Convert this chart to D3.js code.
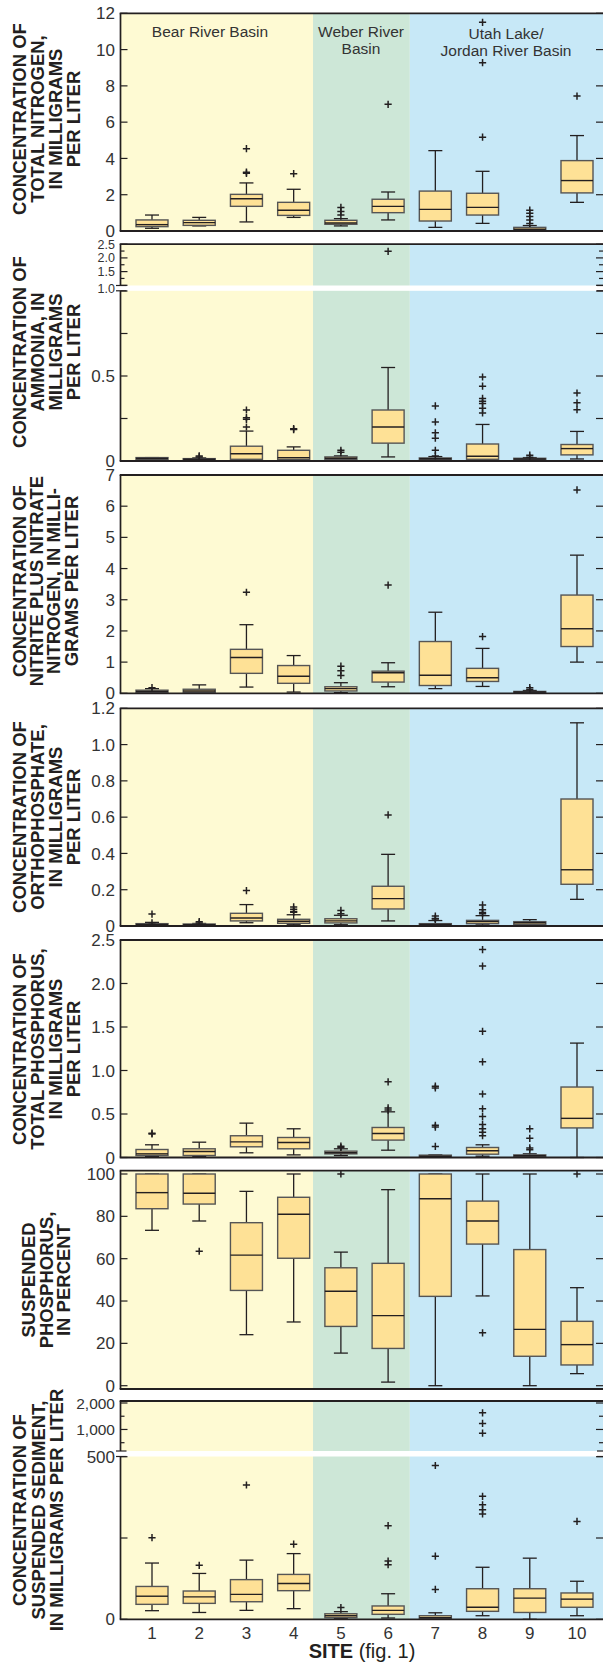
<!DOCTYPE html>
<html><head><meta charset="utf-8">
<script src="https://cdn.jsdelivr.net/npm/d3@7"></script>
<style>
body{margin:0;background:#fff}
svg{display:block}
text{font-family:"Liberation Sans",Arial,Helvetica,sans-serif}
</style>
</head><body>
<svg id="chart" width="603" height="1662"></svg>
<script>
// ---------------- DATA ----------------
const sites = [1,2,3,4,5,6,7,8,9,10];
const siteLabels = ["1","2","3","4","5","6","7","8","9","10"];
const basinNames = [["Bear River Basin"],["Weber River","Basin"],["Utah Lake/","Jordan River Basin"]];
const basinEdges = [0.32, 4.41, 6.46, 10.7];
const basinColors = ["#fefad3","#cde7d7","#c7e8f7"];

// stats per site: [low whisker, 25th, median, 75th, high whisker]
const nitrogenStats = [[0.15,0.24,0.35,0.61,0.88],[0.28,0.31,0.46,0.59,0.75],[0.5,1.36,1.78,2.02,2.65],[0.75,0.86,1.14,1.58,2.3],[0.28,0.37,0.44,0.59,0.68],[0.61,1.01,1.36,1.75,2.15],[0.2,0.55,1.19,2.2,4.43],[0.42,0.88,1.3,2.08,3.29],[0.01,0.05,0.1,0.2,0.3],[1.58,2.1,2.78,3.88,5.26]];
const nitrogenOutliers = [[],[],[4.54,3.24,3.18],[3.16],[1.3,1.07,0.88],[6.98],[],[11.5,9.28,5.17],[1.15,0.98,0.8,0.6,0.42],[7.44]];

const ammoniaStats = [[0.01,0.01,0.015,0.02,0.02],[0.004,0.006,0.01,0.014,0.018],[0.005,0.01,0.043,0.087,0.176],[0.005,0.01,0.02,0.063,0.083],[0.006,0.008,0.016,0.024,0.03],[0.024,0.105,0.2,0.3,0.55],[0.005,0.008,0.013,0.018,0.026],[0.005,0.01,0.028,0.1,0.215],[0.004,0.008,0.012,0.016,0.02],[0.012,0.036,0.073,0.097,0.174]];
const ammoniaOutliers = [[],[0.03,0.024],[0.3,0.255,0.245,0.2],[0.19,0.185],[0.063,0.051],[2.24],[0.324,0.23,0.166,0.134,0.063,0.03],[0.494,0.44,0.368,0.352,0.338,0.31,0.283],[0.034,0.022],[0.4,0.342,0.302]];

const nitrateStats = [[0.01,0.03,0.06,0.1,0.15],[0.01,0.03,0.075,0.13,0.27],[0.2,0.64,1.15,1.41,2.2],[0.04,0.32,0.545,0.89,1.21],[0.02,0.075,0.15,0.21,0.34],[0.21,0.36,0.66,0.71,0.98],[0.15,0.25,0.58,1.66,2.6],[0.22,0.38,0.5,0.8,1.44],[0.005,0.02,0.04,0.06,0.09],[1.0,1.5,2.07,3.15,4.43]];
const nitrateOutliers = [[0.18],[],[3.24],[],[0.87,0.72,0.57],[3.47],[],[1.82],[0.18,0.12],[6.52]];

const orthoStats = [[0.003,0.005,0.008,0.013,0.02],[0.003,0.005,0.007,0.011,0.014],[0.018,0.028,0.044,0.07,0.118],[0.007,0.015,0.026,0.037,0.062],[0.007,0.017,0.028,0.04,0.059],[0.028,0.094,0.151,0.219,0.395],[0.003,0.005,0.008,0.013,0.03],[0.006,0.013,0.024,0.031,0.057],[0.005,0.009,0.018,0.024,0.035],[0.147,0.23,0.31,0.70,1.12]];
const orthoOutliers = [[0.066,0.018],[0.024,0.016],[0.195],[0.105,0.092,0.08,0.076],[0.086,0.068],[0.612],[0.055,0.042,0.038],[0.116,0.09,0.075,0.068],[],[]];

const phosStats = [[0.01,0.023,0.042,0.092,0.146],[0.01,0.023,0.069,0.1,0.176],[0.054,0.123,0.18,0.25,0.395],[0.03,0.1,0.173,0.23,0.33],[0.023,0.042,0.054,0.073,0.1],[0.084,0.2,0.276,0.345,0.525],[0.003,0.008,0.015,0.027,0.03],[0.015,0.038,0.077,0.115,0.146],[0.003,0.008,0.02,0.03,0.042],[0,0.34,0.45,0.81,1.315]];
const phosOutliers = [[0.28,0.27],[],[],[],[0.13,0.115],[0.87,0.57,0.545],[0.82,0.8,0.37,0.35,0.127],[2.39,2.2,1.45,1.1,0.73,0.56,0.47,0.38,0.33,0.29,0.25],[0.33,0.22,0.11,0.09],[]];

const suspPStats = [[73.4,83.6,91.2,100,100],[77.8,85.8,90.9,100,100],[24.1,45,61.7,77,91.8],[30.1,60.2,81,89,100],[15.4,28,44.6,55.7,63.1],[1.7,17.6,33.1,57.8,92.6],[0,42.2,88.3,100,100],[42.4,66.9,77.8,87.2,100],[0,13.9,26.6,64.3,100],[5.7,9.8,19.4,30.4,46.3]];
const suspPOutliers = [[],[63.5],[],[],[100],[],[],[25],[],[100]];

const sedimentStats = [[26.5,46,71,101,173],[21,49,69,87,141],[27.5,54,76.5,122,182],[32.7,88,110,138,202],[2,5,11,17,23.5],[4,15.3,27.5,41,78.6],[1,2,5,11,20],[11,24.5,37,94,160],[0,21,65,94,188],[11,37,62,81,117]];
const sedimentOutliers = [[251],[166],[413],[231],[36],[288,179,168],[473,194,92],[1630,1230,860,378,352,337,324],[],[301]];

// tick values
const nitrogenTicks = [0,2,4,6,8,10,12];
const ammoniaUpperTicks = [1.0,1.5,2.0,2.5];
const ammoniaUpperMinor = [1.25,1.75,2.25];
const ammoniaLowerTicks = [0,0.25,0.5,0.75,1.0];
const ammoniaLowerLabels = [0,0.5];
const nitrateTicks = [0,1,2,3,4,5,6,7];
const orthoTicks = [0,0.2,0.4,0.6,0.8,1.0,1.2];
const phosTicks = [0,0.5,1.0,1.5,2.0,2.5];
const suspPTicks = [0,20,40,60,80,100];
const sedimentUpperTicks = [1000,2000];
const sedimentUpperMinor = [500,1500];
const sedimentLowerTicks = [0,250,500];
const sedimentLowerLabels = [0,500];

const titles = [
  ["CONCENTRATION OF","TOTAL NITROGEN,","IN MILLIGRAMS","PER LITER"],
  ["CONCENTRATION OF","AMMONIA, IN","MILLIGRAMS","PER LITER"],
  ["CONCENTRATION OF","NITRITE PLUS NITRATE","NITROGEN, IN MILLI-","GRAMS PER LITER"],
  ["CONCENTRATION OF","ORTHOPHOSPHATE,","IN MILLIGRAMS","PER LITER"],
  ["CONCENTRATION OF","TOTAL PHOSPHORUS,","IN MILLIGRAMS","PER LITER"],
  ["SUSPENDED","PHOSPHORUS,","IN PERCENT"],
  ["CONCENTRATION OF","SUSPENDED SEDIMENT,","IN MILLIGRAMS PER LITER"]
];

// ---------------- LAYOUT ----------------
const svg = d3.select("#chart");
const L = 120.5, R = 604;
const x = d3.scaleLinear().domain([1,10]).range([152,577]);
const fmt1 = v => v === 0 ? "0" : d3.format(".1f")(v);
const fmtInt = v => String(v);
const fmtComma = d3.format(",");

const panels = [
  {stats:nitrogenStats, out:nitrogenOutliers, title:titles[0], tx:46, ty:119, ts:18,
   segs:[{d:[0,12], r:[231,13.3], top:13.3, bot:231, major:nitrogenTicks, minor:[], labels:nitrogenTicks, fmt:fmtInt, fs:17}]},
  {stats:ammoniaStats, out:ammoniaOutliers, title:titles[1], tx:46, ty:352, ts:18,
   segs:[{d:[1,2.5], r:[285.3,244.2], top:244.2, bot:285.5, major:ammoniaUpperTicks, minor:ammoniaUpperMinor, labels:[1.5,2.0,2.5], fmt:fmt1, fs:12.5, extra:[{v:"1.0", y:288.3}]},
         {d:[0,1], r:[461,291], top:290.8, bot:461, major:ammoniaLowerTicks, minor:[], labels:ammoniaLowerLabels, fmt:fmt1, fs:17}]},
  {stats:nitrateStats, out:nitrateOutliers, title:titles[2], tx:45, ty:581, ts:17.3,
   segs:[{d:[0,7], r:[693.3,475], top:475, bot:693.3, major:nitrateTicks, minor:[], labels:nitrateTicks, fmt:fmtInt, fs:17}]},
  {stats:orthoStats, out:orthoOutliers, title:titles[3], tx:46, ty:817, ts:18,
   segs:[{d:[0,1.2], r:[926,708.3], top:708.3, bot:926, major:orthoTicks, minor:[], labels:orthoTicks, fmt:fmt1, fs:17}]},
  {stats:phosStats, out:phosOutliers, title:titles[4], tx:46, ty:1049, ts:18,
   segs:[{d:[0,2.5], r:[1157.5,940], top:940, bot:1157.5, major:phosTicks, minor:[], labels:phosTicks, fmt:fmt1, fs:17}]},
  {stats:suspPStats, out:suspPOutliers, title:titles[5], tx:46, ty:1280, ts:17.5,
   segs:[{d:[0,100], r:[1385.7,1174], top:1170.7, bot:1389, major:suspPTicks, minor:[], labels:suspPTicks, fmt:fmtInt, fs:17}]},
  {stats:sedimentStats, out:sedimentOutliers, title:titles[6], tx:38, ty:1510, ts:18.5,
   segs:[{d:[500,2000], r:[1442.7,1403], top:1401, bot:1451, major:sedimentUpperTicks, minor:sedimentUpperMinor, labels:[1000,2000], fmt:fmtComma, fs:15.5},
         {d:[0,500], r:[1619.3,1456.7], top:1456.5, bot:1619.3, major:sedimentLowerTicks, minor:[], labels:sedimentLowerLabels, fmt:fmtInt, fs:17}]}
];

const ink = "#231f20";

panels.forEach((p, pi) => {
  const g = svg.append("g");
  p.segs.forEach(s => s.scale = d3.scaleLinear().domain(s.d).range(s.r));
  const segFor = v => {
    if (p.segs.length === 1) return p.segs[0];
    return v > p.segs[1].d[1] ? p.segs[0] : p.segs[1];
  };
  const y = v => segFor(v).scale(v);
  const pTop = p.segs[0].top, pBot = p.segs[p.segs.length-1].bot;

  // basin backgrounds
  g.selectAll("rect.bg").data(basinColors).join("rect")
    .attr("x", (c,i) => Math.max(L, x(basinEdges[i])))
    .attr("width", (c,i) => Math.min(R, x(basinEdges[i+1])) - Math.max(L, x(basinEdges[i])))
    .attr("y", pTop).attr("height", pBot - pTop).attr("fill", c => c);

  // break gap
  if (p.segs.length === 2) {
    g.append("rect").attr("x", L - 1).attr("width", R - L + 2)
      .attr("y", p.segs[0].bot).attr("height", p.segs[1].top - p.segs[0].bot).attr("fill", "#fff");
  }

  // group labels in first panel
  if (pi === 0) {
    const centers = [210, 361, 506];
    const firstBase = [37.3, 37.3, 39.3];
    basinNames.forEach((lines, i) => {
      const t = g.append("text").attr("text-anchor","middle").attr("font-size",15.5).attr("fill","#333");
      lines.forEach((ln, j) => t.append("tspan").attr("x", centers[i]).attr("y", firstBase[i] + j*16.3).text(ln));
    });
  }

  // boxes
  const bw = 16, cw = 7;
  const bx = g.selectAll("g.box").data(p.stats).join("g").attr("class","box")
    .attr("transform", (d,i) => `translate(${x(sites[i])},0)`);
  bx.append("line").attr("x1",0).attr("x2",0).attr("y1", d => y(d[3])).attr("y2", d => y(d[4]))
    .attr("stroke", ink).attr("stroke-width", 1.3);
  bx.append("line").attr("x1",0).attr("x2",0).attr("y1", d => y(d[1])).attr("y2", d => y(d[0]))
    .attr("stroke", ink).attr("stroke-width", 1.3);
  bx.append("line").attr("x1",-cw).attr("x2",cw).attr("y1", d => y(d[4])).attr("y2", d => y(d[4]))
    .attr("stroke", ink).attr("stroke-width", 1.3);
  bx.append("line").attr("x1",-cw).attr("x2",cw).attr("y1", d => y(d[0])).attr("y2", d => y(d[0]))
    .attr("stroke", ink).attr("stroke-width", 1.3);
  bx.append("rect").attr("x",-bw).attr("width",2*bw)
    .attr("y", d => y(d[3])).attr("height", d => Math.max(1, y(d[1]) - y(d[3])))
    .attr("fill","#fee196").attr("stroke","#555").attr("stroke-width",1.4);
  bx.append("line").attr("x1",-bw).attr("x2",bw).attr("y1", d => y(d[2])).attr("y2", d => y(d[2]))
    .attr("stroke", ink).attr("stroke-width", 1.4);

  // outliers
  p.out.forEach((arr, i) => {
    g.selectAll(null).data(arr).join("path")
      .attr("transform", v => `translate(${x(sites[i])},${y(v)})`)
      .attr("d","M-3.6,0H3.6M0,-3.6V3.6").attr("stroke", ink).attr("stroke-width",1.5).attr("fill","none");
  });

  // axes, borders, ticks
  p.segs.forEach((s, si) => {
    g.append("line").attr("x1",L).attr("x2",L).attr("y1",s.top).attr("y2",s.bot).attr("stroke",ink).attr("stroke-width",1.7);
    g.append("line").attr("x1",R).attr("x2",R).attr("y1",s.top).attr("y2",s.bot).attr("stroke",ink).attr("stroke-width",1.7);
    const tk = s.major.map(v => ({v, len:7})).concat(s.minor.map(v => ({v, len:4})));
    g.selectAll(null).data(tk).join("line")
      .attr("x1",L).attr("x2", t => L + t.len).attr("y1", t => s.scale(t.v)).attr("y2", t => s.scale(t.v))
      .attr("stroke",ink).attr("stroke-width",1.2);
    g.selectAll(null).data(tk).join("line")
      .attr("x1",603).attr("x2", t => 603 - t.len).attr("y1", t => s.scale(t.v)).attr("y2", t => s.scale(t.v))
      .attr("stroke",ink).attr("stroke-width",1.2);
    g.selectAll(null).data(s.labels).join("text")
      .attr("x",115).attr("y", v => s.scale(v)).attr("dy","0.36em")
      .attr("text-anchor","end").attr("font-size",s.fs).attr("fill","#333").text(s.fmt);
    if (s.extra) s.extra.forEach(e => g.append("text").attr("x",115).attr("y",e.y).attr("dy","0.36em")
      .attr("text-anchor","end").attr("font-size",s.fs).attr("fill","#333").text(e.v));
  });
  g.append("line").attr("x1",L-0.8).attr("x2",R).attr("y1",pTop).attr("y2",pTop).attr("stroke",ink).attr("stroke-width",1.8);
  g.append("line").attr("x1",L-0.8).attr("x2",R).attr("y1",pBot).attr("y2",pBot).attr("stroke",ink).attr("stroke-width",1.8);
  if (p.segs.length === 2) {
    [p.segs[0].bot, p.segs[1].top].forEach(yy => {
      g.append("line").attr("x1",L-4.5).attr("x2",L+6).attr("y1",yy).attr("y2",yy).attr("stroke",ink).attr("stroke-width",1.2);
      g.append("line").attr("x1",597).attr("x2",603).attr("y1",yy).attr("y2",yy).attr("stroke",ink).attr("stroke-width",1.2);
    });
  }

  // y-axis title
  const n = p.title.length;
  const t = g.append("text").attr("transform",`translate(${p.tx},${p.ty}) rotate(-90)`)
    .attr("text-anchor","middle").attr("font-size",18.5).attr("font-weight","bold").attr("fill",ink);
  p.title.forEach((ln, j) => t.append("tspan").attr("x",0)
    .attr("y", (j - (n-1)/2) * p.ts + 6.6).text(ln));
});

// x axis labels
svg.append("g").selectAll("text").data(sites).join("text")
  .attr("x", d => x(d)).attr("y", 1639).attr("text-anchor","middle")
  .attr("font-size",17).attr("fill","#333").text((d,i) => siteLabels[i]);
const st = svg.append("text").attr("x",362).attr("y",1658).attr("text-anchor","middle").attr("font-size",20).attr("fill",ink);
st.append("tspan").attr("font-weight","bold").text("SITE");
st.append("tspan").text(" (fig. 1)");
</script>
</body></html>
